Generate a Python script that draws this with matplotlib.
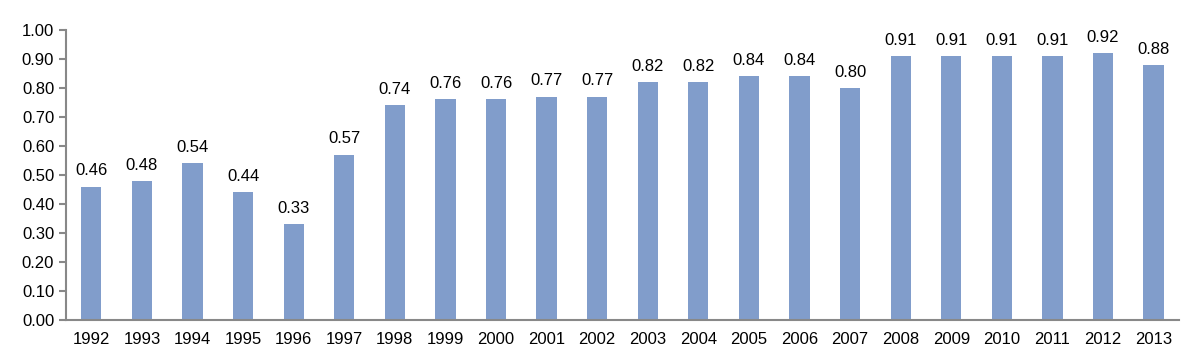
import numpy as np
import matplotlib.pyplot as plt

plt.rcParams['font.family'] = ['Liberation Sans', 'DejaVu Sans']

years = [str(y) for y in range(1992, 2014)]
values = [0.46, 0.48, 0.54, 0.44, 0.33, 0.57, 0.74, 0.76, 0.76, 0.77, 0.77,
          0.82, 0.82, 0.84, 0.84, 0.80, 0.91, 0.91, 0.91, 0.91, 0.92, 0.88]

fig = plt.figure(figsize=(11.92, 3.64), dpi=100)
ax = fig.add_axes([0.0554, 0.121, 0.9336, 0.797])

x = np.arange(len(years))
bars = ax.bar(x, values, width=0.4, color='#819DCB')
for xi, v in zip(x, values):
    ax.text(xi, v + 0.028, f'{v:.2f}', ha='center', va='bottom', fontsize=12)

ax.set_xlim(-0.5, len(years) - 0.5)
ax.set_ylim(0, 1.0)
ax.set_yticks(np.arange(0, 1.01, 0.1))
ax.set_yticklabels([f'{t:.2f}' for t in np.arange(0, 1.01, 0.1)], fontsize=12)
ax.set_xticks(x)
ax.set_xticklabels(years, fontsize=12)
ax.tick_params(axis='x', length=0, pad=9)
ax.tick_params(axis='y', length=5, color='#888888', width=1.5)

for s in ['top', 'right']:
    ax.spines[s].set_visible(False)
for s in ['left', 'bottom']:
    ax.spines[s].set_color('#888888')
    ax.spines[s].set_linewidth(1.5)

fig.savefig('out.png', dpi=100)
